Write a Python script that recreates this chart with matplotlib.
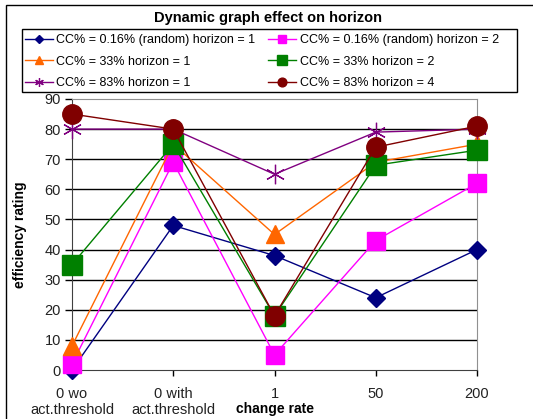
import matplotlib
matplotlib.use("Agg")
import matplotlib.pyplot as plt
from matplotlib.patches import Rectangle

plt.rcParams['font.family'] = ['Liberation Sans', 'DejaVu Sans']

categories = ["0 wo\nact.threshold", "0 with\nact.threshold", "1", "50", "200"]
labels = ["CC% = 0.16% (random) horizon = 1", "CC% = 0.16% (random) horizon = 2",
          "CC% = 33% horizon = 1", "CC% = 33% horizon = 2",
          "CC% = 83% horizon = 1", "CC% = 83% horizon = 4"]
s_rand_h1 = [0, 48, 38, 24, 40]
s_rand_h2 = [2, 69, 5, 43, 62]
s_33_h1 = [8, 75, 45, 69, 75]
s_33_h2 = [35, 75, 18, 68, 73]
s_83_h1 = [80, 80, 65, 79, 80]
s_83_h4 = [85, 80, 18, 74, 81]
series = [s_rand_h1, s_rand_h2, s_33_h1, s_33_h2, s_83_h1, s_83_h4]
colors = ['#000080', '#FF00FF', '#FF6600', '#008000', '#800080', '#800000']
markers = ['D', 's', '^', 's', (6, 2, 0), 'o']
msizes = [9, 13, 13, 15, 14, 14]

W, H = 533, 419
fig = plt.figure(figsize=(W / 100, H / 100), dpi=100)
ax = fig.add_axes([72 / W, 1 - 370 / H, (477 - 72) / W, (370 - 99) / H])

x = list(range(len(categories)))
handles = []
for s, c, m, ms, lab in zip(series, colors, markers, msizes, labels):
    kw = dict(markerfacecolor=c, markeredgecolor=c)
    if m == (6, 2, 0):
        kw = dict(markeredgecolor=c, markeredgewidth=0.9)
    h, = ax.plot(x, s, color=c, lw=1.0, marker=m, markersize=ms, clip_on=False,
                 zorder=3, label=lab, **kw)
    handles.append(h)

ax.set_xlim(0, 4)
ax.set_ylim(0, 90)
ax.set_yticks(range(0, 91, 10))
ax.set_xticks(x)
ax.set_xticklabels(categories, linespacing=1.25)
ax.tick_params(axis='both', labelsize=10.5, colors='black', labelcolor='#222222')
ax.tick_params(axis='y', length=5, width=1, pad=3)
ax.tick_params(axis='x', length=4, width=1, pad=8)
for yv in range(10, 90, 10):
    ax.axhline(yv, color='black', lw=1.0, zorder=1)
for side in ['top', 'right']:
    ax.spines[side].set_color('#909090')
for side in ['left', 'bottom']:
    ax.spines[side].set_color('#404040')
ax.set_ylabel("efficiency rating", fontsize=10, fontweight='bold', va='center')
ax.yaxis.set_label_coords((20 - 72) / 405, 0.5)
ax.set_xlabel("change rate", fontsize=10, fontweight='bold', va='center')
ax.xaxis.set_label_coords(0.5, (370 - 409) / 271)

fig.text(268 / W, 1 - 18 / H, "Dynamic graph effect on horizon", ha='center', va='center',
         fontsize=10.5, fontweight='bold')

order = [0, 2, 4, 1, 3, 5]
leg = fig.legend([handles[i] for i in order], [labels[i] for i in order], ncol=2,
                 loc='upper left', bbox_to_anchor=(25 / W, 1 - 34 / H),
                 fontsize=9, frameon=False,
                 markerscale=0.45, handlelength=2.2, handletextpad=0.32,
                 borderaxespad=0, labelspacing=0.78, columnspacing=1.0, borderpad=0)

fig.add_artist(Rectangle((22 / W, 1 - 92 / H), (517 - 22) / W, (92 - 29) / H,
                         transform=fig.transFigure, fill=False, edgecolor='black', lw=1.0))

fig.add_artist(Rectangle((6 / W, -0.5), 2, 1.5 - 5 / H, transform=fig.transFigure,
                         fill=False, edgecolor='black', lw=1.0, clip_on=False))

fig.savefig("out.png", dpi=100)
